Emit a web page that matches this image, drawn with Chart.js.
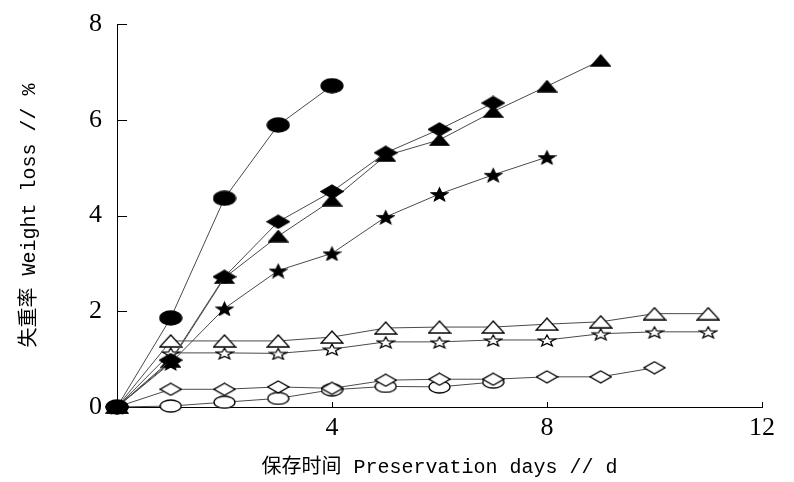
<!DOCTYPE html>
<html>
<head>
<meta charset="utf-8">
<script src="https://cdn.jsdelivr.net/npm/chart.js@4/dist/chart.umd.min.js"></script>
<style>
  body { margin: 0; background: #fff; }
</style>
</head>
<body>
<canvas id="chart" width="794" height="482"></canvas>
<script>
// storage days on the x axis
const days = [0, 1, 2, 3, 4, 5, 6, 7, 8, 9, 10, 11];

// weight loss (%) per series, one value per day starting at day 0
const filledCircle   = [0, 1.86, 4.36, 5.89, 6.71];
const filledDiamond  = [0, 0.98, 2.72, 3.87, 4.50, 5.31, 5.80, 6.35];
const filledTriangle = [0, 0.95, 2.70, 3.57, 4.32, 5.25, 5.58, 6.17, 6.70, 7.24];
const filledStar     = [0, 0.92, 2.06, 2.85, 3.21, 3.97, 4.45, 4.85, 5.22];
const openTriangle   = [0, 1.38, 1.38, 1.38, 1.46, 1.65, 1.67, 1.67, 1.73, 1.78, 1.95, 1.95];
const openStar       = [0, 1.13, 1.13, 1.12, 1.21, 1.36, 1.36, 1.40, 1.40, 1.53, 1.57, 1.57];
const openDiamond    = [0, 0.37, 0.37, 0.42, 0.39, 0.56, 0.58, 0.58, 0.63, 0.63, 0.82];
const openEllipse    = [0, 0.02, 0.10, 0.18, 0.36, 0.43, 0.42, 0.52];

const yTicks = [0, 2, 4, 6, 8];
const xTicks = [4, 8, 12];

const xTitle = "保存时间 Preservation days // d";
const yTitle = "失重率 Weight loss // %";

// little canvases used as point styles (ellipses, diamonds, stars...)
function makeMarker(shape, filled, w, h) {
  const c = document.createElement("canvas");
  c.width = w + 2;
  c.height = h + 2;
  const g = c.getContext("2d");
  const cx = c.width / 2, cy = c.height / 2, rx = w / 2, ry = h / 2;
  g.beginPath();
  if (shape === "ellipse") {
    g.ellipse(cx, cy, rx, ry, 0, 0, Math.PI * 2);
  } else if (shape === "diamond") {
    g.moveTo(cx, cy - ry); g.lineTo(cx + rx, cy); g.lineTo(cx, cy + ry); g.lineTo(cx - rx, cy);
    g.closePath();
  } else if (shape === "triangle") {
    g.moveTo(cx, cy - ry); g.lineTo(cx + rx, cy + ry); g.lineTo(cx - rx, cy + ry);
    g.closePath();
  } else if (shape === "star") {
    for (let i = 0; i < 10; i++) {
      const a = -Math.PI / 2 + i * Math.PI / 5;
      const k = i % 2 ? 0.42 : 1;
      const px = cx + Math.cos(a) * rx * k;
      const py = cy + 1 + Math.sin(a) * ry * k;
      if (i === 0) g.moveTo(px, py); else g.lineTo(px, py);
    }
    g.closePath();
  }
  g.fillStyle = filled ? "#000" : "#fff";
  g.fill();
  g.lineWidth = 1.3;
  g.strokeStyle = "#000";
  g.stroke();
  return c;
}

function series(values, marker) {
  return {
    data: values.map((v, i) => ({ x: days[i], y: v })),
    borderColor: "#4a4a4a",
    borderWidth: 1,
    pointStyle: marker,
    pointRadius: 8,
    tension: 0,
    clip: false
  };
}

// inward tick marks, like the original figure
const innerTicks = {
  id: "innerTicks",
  afterDraw(chart) {
    const ctx = chart.ctx;
    const xs = chart.scales.x, ys = chart.scales.y;
    ctx.save();
    ctx.strokeStyle = "#000";
    ctx.lineWidth = 1;
    ctx.beginPath();
    yTicks.forEach(v => {
      const py = Math.round(ys.getPixelForValue(v)) + 0.5;
      ctx.moveTo(xs.left, py);
      ctx.lineTo(xs.left + 10, py);
    });
    xTicks.forEach(v => {
      const px = Math.round(xs.getPixelForValue(v)) + 0.5;
      ctx.moveTo(px, ys.bottom);
      ctx.lineTo(px, ys.bottom - 5);
    });
    ctx.stroke();
    ctx.restore();
  }
};

const ctx = document.getElementById("chart");

var weightChart = new Chart(ctx, {
  type: "line",
  data: {
    datasets: [
      series(filledCircle, makeMarker("ellipse", true, 22, 14)),
      series(filledDiamond, makeMarker("diamond", true, 22, 13)),
      series(filledTriangle, makeMarker("triangle", true, 19, 11)),
      series(filledStar, makeMarker("star", true, 17, 14)),
      series(openTriangle, makeMarker("triangle", false, 22, 12)),
      series(openStar, makeMarker("star", false, 18, 12)),
      series(openDiamond, makeMarker("diamond", false, 21, 12)),
      series(openEllipse, makeMarker("ellipse", false, 21, 12))
    ]
  },
  options: {
    responsive: false,
    animation: false,
    layout: { padding: { top: 24, right: 32, left: 0, bottom: 0 } },
    plugins: { legend: { display: false }, tooltip: { enabled: false } },
    scales: {
      x: {
        type: "linear",
        min: 0,
        max: 12,
        afterFit: s => { s.height = 75; s.paddingLeft = 0; s.paddingRight = 0; },
        afterBuildTicks: s => { s.ticks = xTicks.map(v => ({ value: v })); },
        grid: { display: false, drawTicks: false },
        border: { display: true, color: "#000", width: 1 },
        ticks: {
          padding: 6,
          color: "#000",
          font: { family: "'Liberation Serif', serif", size: 26 }
        },
        title: {
          display: true,
          text: xTitle,
          color: "#000",
          padding: { top: 0, bottom: 2 },
          font: { family: "'Liberation Mono', 'Noto Sans CJK SC', monospace", size: 20 }
        }
      },
      y: {
        min: 0,
        max: 8,
        afterFit: s => { s.width = 117; s.paddingTop = 0; s.paddingBottom = 0; },
        afterBuildTicks: s => { s.ticks = yTicks.map(v => ({ value: v })); },
        grid: { display: false, drawTicks: false },
        border: { display: true, color: "#000", width: 1 },
        ticks: {
          padding: 15,
          color: "#000",
          font: { family: "'Liberation Serif', serif", size: 26 }
        },
        title: {
          display: true,
          text: yTitle,
          color: "#000",
          padding: { top: 18, bottom: 0 },
          font: { family: "'Liberation Mono', 'Noto Sans CJK SC', monospace", size: 20 }
        }
      }
    }
  },
  plugins: [innerTicks]
});
</script>
</body>
</html>
